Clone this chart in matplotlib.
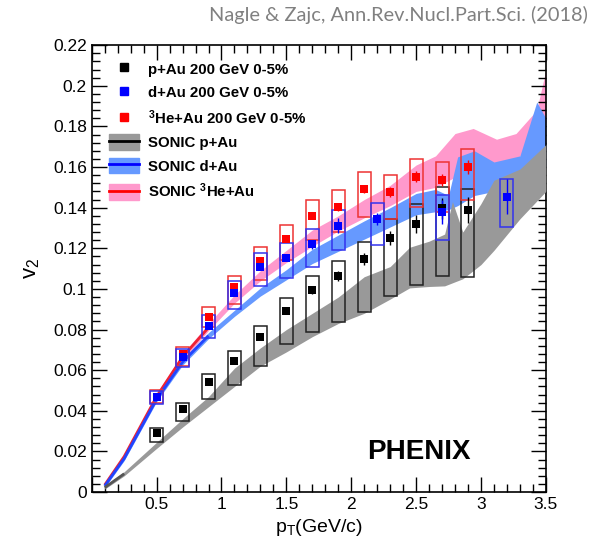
import matplotlib
matplotlib.use("Agg")
import matplotlib.pyplot as plt
from matplotlib.patches import Rectangle, Patch
from matplotlib.lines import Line2D
from matplotlib.ticker import MultipleLocator, FuncFormatter

plt.rcParams['font.family'] = ['Liberation Sans', 'DejaVu Sans']
plt.rcParams['mathtext.fontset'] = 'custom'
plt.rcParams['mathtext.rm'] = 'Liberation Sans'
plt.rcParams['mathtext.it'] = 'Liberation Sans'
plt.rcParams['mathtext.bf'] = 'Liberation Sans:bold'

# PHENIX data: p+Au
pau_x = [0.5, 0.7, 0.9, 1.1, 1.3, 1.5, 1.7, 1.9, 2.1, 2.3, 2.5, 2.7, 2.9]
pau_y = [0.029, 0.041, 0.054, 0.0645, 0.0764, 0.089, 0.0994, 0.1063, 0.1148, 0.125, 0.1319, 0.1398, 0.1388]
pau_stat = [0.0005, 0.0007, 0.001, 0.001, 0.0012, 0.0015, 0.002, 0.0025, 0.003, 0.0035, 0.0043, 0.0052, 0.0064]
pau_sys_lo = [0.0248, 0.0349, 0.0458, 0.0525, 0.0622, 0.0728, 0.0786, 0.0838, 0.0887, 0.0966, 0.1019, 0.1063, 0.1057]
pau_sys_hi = [0.0313, 0.0440, 0.0579, 0.0692, 0.0818, 0.0955, 0.1065, 0.1137, 0.1232, 0.1342, 0.1416, 0.1500, 0.1490]

# d+Au
dau_x = [0.5, 0.7, 0.9, 1.1, 1.3, 1.5, 1.7, 1.9, 2.2, 2.7, 3.2]
dau_y = [0.0467, 0.0663, 0.0819, 0.0979, 0.1109, 0.1153, 0.1219, 0.1312, 0.1343, 0.138, 0.1453]
dau_stat = [0.0005, 0.0006, 0.0008, 0.001, 0.0012, 0.0015, 0.002, 0.0035, 0.003, 0.006, 0.0086]
dau_sys_lo = [0.0433, 0.0614, 0.0756, 0.0899, 0.1014, 0.1052, 0.1109, 0.1191, 0.1214, 0.1240, 0.1303]
dau_sys_hi = [0.0499, 0.0704, 0.0871, 0.1038, 0.1175, 0.1224, 0.1293, 0.1391, 0.1424, 0.1462, 0.1540]

# 3He+Au
heau_x = [0.5, 0.7, 0.9, 1.1, 1.3, 1.5, 1.7, 1.9, 2.1, 2.3, 2.5, 2.7, 2.9]
heau_y = [0.047, 0.068, 0.086, 0.101, 0.1138, 0.1245, 0.1358, 0.1404, 0.1491, 0.1476, 0.1552, 0.1537, 0.160]
heau_stat = [0.0005, 0.0006, 0.0008, 0.001, 0.0012, 0.0014, 0.0016, 0.0018, 0.002, 0.0025, 0.0028, 0.003, 0.0035]
heau_sys_lo = [0.0440, 0.0620, 0.0814, 0.0925, 0.1043, 0.1142, 0.1240, 0.1278, 0.1355, 0.1345, 0.1401, 0.1379, 0.1437]
heau_sys_hi = [0.0500, 0.0715, 0.0909, 0.1065, 0.1204, 0.1317, 0.1437, 0.1486, 0.1576, 0.1563, 0.1642, 0.1626, 0.1691]

# SONIC bands
g_x = [0.1, 0.25, 0.5, 0.7, 0.9, 1.1, 1.3, 1.5, 1.7, 1.9, 2.1, 2.3, 2.45, 2.6, 2.72, 2.78, 2.86, 3.0, 3.1, 3.3, 3.5]
g_lo = [0.0015, 0.008, 0.0215, 0.032, 0.042, 0.052, 0.062, 0.069, 0.0765, 0.083, 0.088, 0.095, 0.1005, 0.1012, 0.1015, 0.103, 0.105, 0.112, 0.119, 0.1345, 0.148]
g_hi = [0.0030, 0.0100, 0.0245, 0.036, 0.047, 0.061, 0.071, 0.080, 0.088, 0.096, 0.106, 0.111, 0.1205, 0.1235, 0.127, 0.143, 0.128, 0.142, 0.1535, 0.159, 0.171]

b_x = [0.1, 0.25, 0.5, 0.7, 0.9, 1.1, 1.3, 1.5, 1.7, 1.9, 2.1, 2.3, 2.5, 2.65, 2.75, 2.82, 2.95, 3.1, 3.3, 3.43, 3.5]
b_lo = [0.0022, 0.0155, 0.0445, 0.0625, 0.0755, 0.0865, 0.0965, 0.1045, 0.1125, 0.1185, 0.1245, 0.1305, 0.1365, 0.138, 0.139, 0.141, 0.146, 0.148, 0.151, 0.157, 0.160]
b_hi = [0.0040, 0.0175, 0.0470, 0.0655, 0.0785, 0.0895, 0.1005, 0.1095, 0.1195, 0.1265, 0.1335, 0.1400, 0.1470, 0.149, 0.146, 0.165, 0.168, 0.1625, 0.1655, 0.192, 0.184]

r_x = [0.1, 0.25, 0.5, 0.7, 0.9, 1.1, 1.3, 1.5, 1.7, 1.9, 2.1, 2.3, 2.5, 2.65, 2.8, 2.94, 3.12, 3.27, 3.43, 3.5]
r_lo = [0.0025, 0.0165, 0.0458, 0.0648, 0.0795, 0.0930, 0.1040, 0.1130, 0.1210, 0.1285, 0.1350, 0.1410, 0.1480, 0.150, 0.155, 0.160, 0.160, 0.162, 0.180, 0.182]
r_hi = [0.0045, 0.0185, 0.0485, 0.0680, 0.0830, 0.0970, 0.1090, 0.1190, 0.1290, 0.1360, 0.1440, 0.1510, 0.1610, 0.1655, 0.1765, 0.179, 0.1737, 0.1765, 0.188, 0.2077]

# SONIC central curves at low pT
line_x = [0.1, 0.25, 0.5, 0.7, 0.9]
dau_line = [0.003, 0.0165, 0.0457, 0.064, 0.077]
heau_line = [0.0035, 0.0175, 0.047, 0.0665, 0.081]
pau_line_x = [0.1, 0.25]
pau_line = [0.0022, 0.009]

GRAY = '#999999'
BLUE_BAND = '#6699ff'
PINK = '#ff99cc'

fig = plt.figure(figsize=(5.92, 5.51), dpi=100)
ax = fig.add_axes([0.155, 0.107, 0.767, 0.811])

ax.fill_between(r_x, r_lo, r_hi, color=PINK, lw=0, zorder=1)
ax.fill_between(b_x, b_lo, b_hi, color=BLUE_BAND, lw=0, zorder=2)
ax.fill_between(g_x, g_lo, g_hi, color=GRAY, lw=0, zorder=3)
ax.plot(line_x, heau_line, color='#ee2233', lw=2, zorder=3, solid_capstyle='butt')
ax.plot(line_x, dau_line, color='#2244ff', lw=2, zorder=3, solid_capstyle='butt')
ax.plot(pau_line_x, pau_line, color='#555555', lw=2, zorder=3, solid_capstyle='butt')

def draw_set(xs, ys, stat, lo, hi, col, boxcol):
    for x, l, h in zip(xs, lo, hi):
        ax.add_patch(Rectangle((x - 0.05, l), 0.1, h - l, fill=False,
                               edgecolor=boxcol, lw=1.1, zorder=4))
    ax.errorbar(xs, ys, yerr=stat, fmt='s', color=col, ms=6, mew=0,
                elinewidth=1, capsize=2, ecolor=col, zorder=5)

draw_set(pau_x, pau_y, pau_stat, pau_sys_lo, pau_sys_hi, 'black', '#222222')
draw_set(heau_x, heau_y, heau_stat, heau_sys_lo, heau_sys_hi, 'red', '#ee3333')
draw_set(dau_x, dau_y, dau_stat, dau_sys_lo, dau_sys_hi, 'blue', '#3333ee')

ax.set_xlim(0, 3.5)
ax.set_ylim(0, 0.22)
ax.xaxis.set_major_locator(MultipleLocator(0.5))
ax.xaxis.set_minor_locator(MultipleLocator(0.1))
ax.yaxis.set_major_locator(MultipleLocator(0.02))
ax.yaxis.set_minor_locator(MultipleLocator(0.004))
ax.xaxis.set_major_formatter(FuncFormatter(lambda v, pos: '' if v < 0.25 else f'{v:g}'))
ax.yaxis.set_major_formatter(FuncFormatter(lambda v, pos: '0' if abs(v) < 1e-9 else f'{v:g}'))
ax.tick_params(which='both', direction='in', top=True, right=True, labelsize=12.5)
ax.tick_params(which='major', length=11, width=1)
ax.tick_params(which='minor', length=5.5, width=1)
for s in ax.spines.values():
    s.set_linewidth(1.2)

ax.set_xlabel(r'p$_{T}$(GeV/c)', fontsize=14, labelpad=4)
ax.set_ylabel(r'v$_{2}$', fontsize=16, labelpad=8)

ax.text(2.52, 0.0195, 'PHENIX', fontsize=20, fontweight='bold', ha='center', va='center')

handles = [
    Line2D([], [], marker='s', ls='none', color='black', ms=6),
    Line2D([], [], marker='s', ls='none', color='blue', ms=6),
    Line2D([], [], marker='s', ls='none', color='red', ms=6),
    (Patch(color=GRAY), Line2D([], [], color='black', lw=2)),
    (Patch(color=BLUE_BAND), Line2D([], [], color='blue', lw=2)),
    (Patch(color=PINK), Line2D([], [], color='red', lw=2)),
]
labels = [
    'p+Au 200 GeV 0-5%',
    'd+Au 200 GeV 0-5%',
    r'$^{\mathbf{3}}$He+Au 200 GeV 0-5%',
    'SONIC p+Au',
    'SONIC d+Au',
    r'SONIC $^{\mathbf{3}}$He+Au',
]
leg = ax.legend(handles, labels, loc='upper left', bbox_to_anchor=(0.009, 0.995),
                frameon=False, prop={'weight': 'bold', 'size': 10.8},
                handlelength=2.0, handleheight=1.2, labelspacing=0.52,
                handletextpad=0.55)

fig.text(0.993, 0.972, 'Nagle & Zajc, Ann.Rev.Nucl.Part.Sci. (2018)',
         fontsize=14.4, color='#808080', family='Lato', ha='right', va='center')

fig.savefig('out.png', dpi=100)
